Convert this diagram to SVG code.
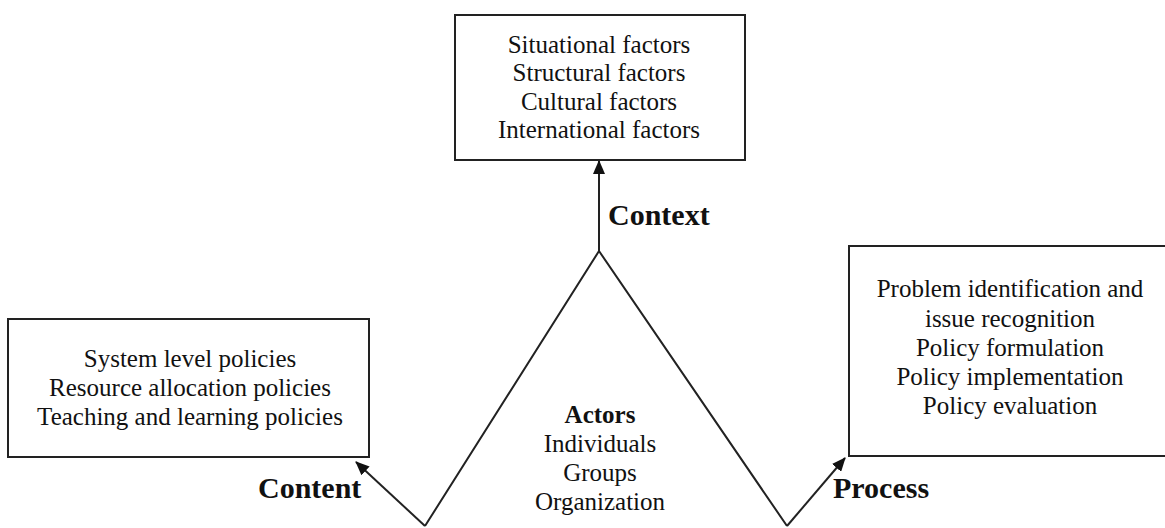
<svg xmlns="http://www.w3.org/2000/svg" width="1165" height="528" viewBox="0 0 1165 528">
<style>
.box{fill:#fff;stroke:#222;stroke-width:2}
.t{font-family:"Liberation Serif","Times New Roman",serif;font-size:25px;fill:#111;text-anchor:middle}
.b{font-weight:bold}
.lbl{font-family:"Liberation Serif","Times New Roman",serif;font-size:30px;font-weight:bold;fill:#111}
.ln{fill:none;stroke:#222;stroke-width:2}
</style>
<defs>
<marker id="arr" markerUnits="userSpaceOnUse" markerWidth="14" markerHeight="12" refX="13" refY="6" orient="auto">
<path d="M0,0 L14,6 L0,12 z" fill="#111"/>
</marker>
</defs>
<rect width="1165" height="528" fill="#fff"/>
<g id="connectors">
<path class="ln" d="M425,526 L599,251 L787,526"/>
<line class="ln" x1="599" y1="251" x2="599" y2="161" marker-end="url(#arr)"/>
<line class="ln" x1="425" y1="526" x2="356" y2="462" marker-end="url(#arr)"/>
<line class="ln" x1="787" y1="526" x2="845" y2="458" marker-end="url(#arr)"/>
</g>
<g id="context-box">
<rect class="box" x="455" y="15" width="290" height="145"/>
<text class="t" x="599" y="52.5">Situational factors</text>
<text class="t" x="599" y="81">Structural factors</text>
<text class="t" x="599" y="109.5">Cultural factors</text>
<text class="t" x="599" y="138">International factors</text>
</g>
<g id="content-box">
<rect class="box" x="8" y="319" width="361" height="138"/>
<text class="t" x="190" y="367">System level policies</text>
<text class="t" x="190" y="396">Resource allocation policies</text>
<text class="t" x="190" y="425">Teaching and learning policies</text>
</g>
<g id="process-box">
<rect class="box" x="849" y="246" width="330" height="210"/>
<text class="t" x="1010" y="297">Problem identification and</text>
<text class="t" x="1010" y="326.5">issue recognition</text>
<text class="t" x="1010" y="355.5">Policy formulation</text>
<text class="t" x="1010" y="385">Policy implementation</text>
<text class="t" x="1010" y="414">Policy evaluation</text>
</g>
<g id="actors">
<text class="t b" x="600" y="423">Actors</text>
<text class="t" x="600" y="452">Individuals</text>
<text class="t" x="600" y="481">Groups</text>
<text class="t" x="600" y="510">Organization</text>
</g>
<g id="labels">
<text class="lbl" x="608" y="225">Context</text>
<text class="lbl" x="258" y="498">Content</text>
<text class="lbl" x="833" y="498">Process</text>
</g>
</svg>
